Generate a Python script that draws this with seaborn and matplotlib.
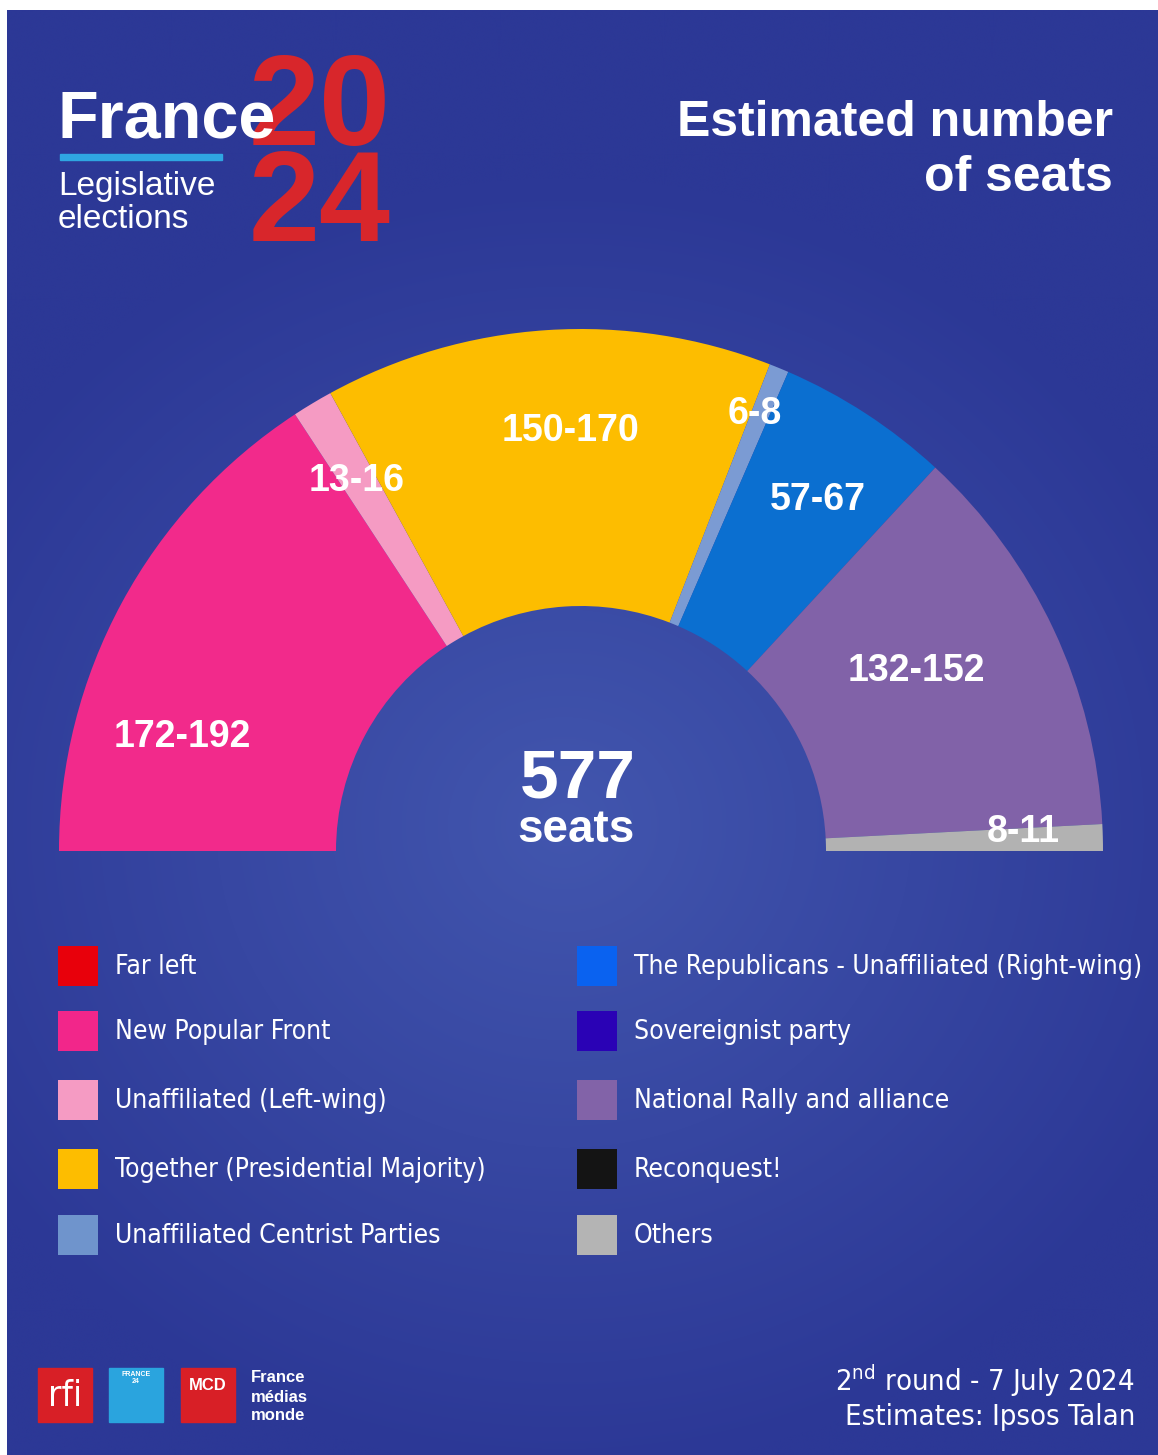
import numpy as np
import pandas as pd
import seaborn as sns
import matplotlib.pyplot as plt
from matplotlib.patches import Rectangle

# %% data
parties = ["New Popular Front", "Unaffiliated (Left-wing)", "Together (Presidential Majority)",
           "Unaffiliated Centrist Parties", "The Republicans - Unaffiliated (Right-wing)",
           "National Rally and alliance", "Others"]
seat_low = [172, 13, 150, 6, 57, 132, 8]
seat_high = [192, 16, 170, 8, 67, 152, 11]
seat_colors = ["#f22a8b", "#f59bc3", "#fdbd00", "#7b9bd3", "#0b6fd0", "#8162a8", "#b2b2b2"]
total_seats = 577

legend_left = ["Far left", "New Popular Front", "Unaffiliated (Left-wing)",
               "Together (Presidential Majority)", "Unaffiliated Centrist Parties"]
legend_left_colors = ["#e8000b", "#f2268a", "#f59bc3", "#fdbd00", "#6f94cc"]
legend_right = ["The Republicans - Unaffiliated (Right-wing)", "Sovereignist party",
                "National Rally and alliance", "Reconquest!", "Others"]
legend_right_colors = ["#0a62f0", "#2a02b5", "#8263a8", "#141414", "#b4b4b4"]

# %% plot
sns.set_theme(style="white")
plt.rcParams['font.family'] = ['Liberation Sans', 'DejaVu Sans']
narrow = dict(family=['DejaVu Sans'], fontstretch='condensed')

W, H = 1158, 1455
fig = plt.figure(figsize=(W / 100, H / 100), dpi=100)
fig.patch.set_facecolor("white")
ax = fig.add_axes([0, 0, 1, 1])
ax.set_xlim(0, W)
ax.set_ylim(0, H)
ax.set_aspect("equal")
ax.axis("off")

# background gradient (white strip left/top like the screenshot)
yy, xx = np.mgrid[0:H, 0:W]
d = np.sqrt(((xx - 560) / 700.0) ** 2 + ((yy - 820) / 650.0) ** 2)
t = np.clip(1 - d, 0, 1)
c_dark = np.array([0x2c, 0x38, 0x96]) / 255
c_light = np.array([0x42, 0x56, 0xae]) / 255
img = c_dark + (c_light - c_dark) * t[..., None]
ax.imshow(img, extent=[7, W, 0, H - 10], origin="upper", zorder=0, aspect="auto")

# donut: semicircle
cx, cy = 581, H - 851
r_out, r_in = 522, 245
mid = [(a + b) / 2 for a, b in zip(seat_low, seat_high)]
vals = mid + [sum(mid)]
cols = seat_colors + ["none"]
wedges, _ = ax.pie(vals, colors=cols, startangle=180, counterclock=False, center=(cx, cy),
                   radius=r_out, wedgeprops=dict(width=r_out - r_in, linewidth=0), frame=True)
wedges[-1].set_visible(False)
for w in wedges:
    w.set_zorder(2)
ax.set_xlim(0, W)
ax.set_ylim(0, H)
ax.axis("off")

labels = [f"{a}-{b}" for a, b in zip(seat_low, seat_high)]
label_pos = [(182, 737), (357, 481), (571, 431), (755, 414), (818, 500), (916, 671), (1023, 832)]
for lab, (x, y) in zip(labels, label_pos):
    ax.text(x, H - y, lab, color="white", fontsize=27, fontweight="bold",
            ha="center", va="center", zorder=5)

ax.text(578, H - 779, str(total_seats), color="white", fontsize=50, fontweight="bold",
        ha="center", va="center", zorder=5)
ax.text(576, H - 830, "seats", color="white", fontsize=33, fontweight="bold",
        ha="center", va="center", zorder=5)

# header logo
ax.text(320, H - 112, "20", color="#d8262b", fontsize=92, fontweight="bold",
        ha="center", va="center", zorder=3)
ax.text(320, H - 208, "24", color="#d8262b", fontsize=92, fontweight="bold",
        ha="center", va="center", zorder=3)
ax.text(57, H - 121, "France", color="white", fontsize=48, fontweight="bold",
        ha="left", va="center", zorder=4)
ax.add_patch(Rectangle((60, H - 160), 162, 6, color="#2fa6e2", zorder=4))
ax.text(58, H - 186, "Legislative", color="white", fontsize=24, ha="left", va="center", zorder=4)
ax.text(58, H - 219, "elections", color="white", fontsize=24, ha="left", va="center", zorder=4)

ax.text(1113, H - 123, "Estimated number", color="white", fontsize=36, fontweight="bold",
        ha="right", va="center", zorder=4)
ax.text(1113, H - 178, "of seats", color="white", fontsize=36, fontweight="bold",
        ha="right", va="center", zorder=4)

# legend
rows = [966, 1031, 1100, 1169, 1235]
leg = pd.DataFrame({
    "x": [78] * 5 + [597] * 5,
    "y": [H - r for r in rows] * 2,
    "party": legend_left + legend_right,
})
sns.scatterplot(data=leg, x="x", y="y", hue="party", palette=legend_left_colors + legend_right_colors,
                marker="s", s=830, linewidth=0, legend=False, ax=ax, zorder=4)
for _, row in leg.iterrows():
    ax.text(row.x + 37, row.y - 1, row.party, color="white", fontsize=19, **narrow,
            ha="left", va="center", zorder=4)
ax.set_xlim(0, W)
ax.set_ylim(0, H)
ax.axis("off")

# footer
ax.text(1135, H - 1381, r"2$^{\mathregular{nd}}$ round - 7 July 2024", color="white", fontsize=21,
        **narrow, ha="right", va="center", zorder=4)
ax.text(1135, H - 1417, "Estimates: Ipsos Talan", color="white", fontsize=21,
        **narrow, ha="right", va="center", zorder=4)

ax.add_patch(Rectangle((38, H - 1422), 54, 54, color="#d81f26", zorder=4))
ax.text(65, H - 1396, "rfi", color="white", fontsize=26, **narrow,
        ha="center", va="center", zorder=5)
ax.add_patch(Rectangle((109, H - 1422), 54, 54, color="#2aa4de", zorder=4))
ax.text(136, H - 1378, "FRANCE\n24", color="white", fontsize=5, fontweight="bold",
        ha="center", va="center", zorder=5, linespacing=0.9)
ax.add_patch(Rectangle((181, H - 1422), 54, 54, color="#d81f26", zorder=4))
ax.text(208, H - 1385, "MCD", color="white", fontsize=12, fontweight="bold",
        ha="center", va="center", zorder=5)
for i, word in enumerate(["France", "médias", "monde"]):
    ax.text(251, H - 1378 - 19 * i, word, color="white", fontsize=12, fontweight="bold",
            ha="left", va="center", zorder=5)

fig.savefig("out.png", dpi=100)
